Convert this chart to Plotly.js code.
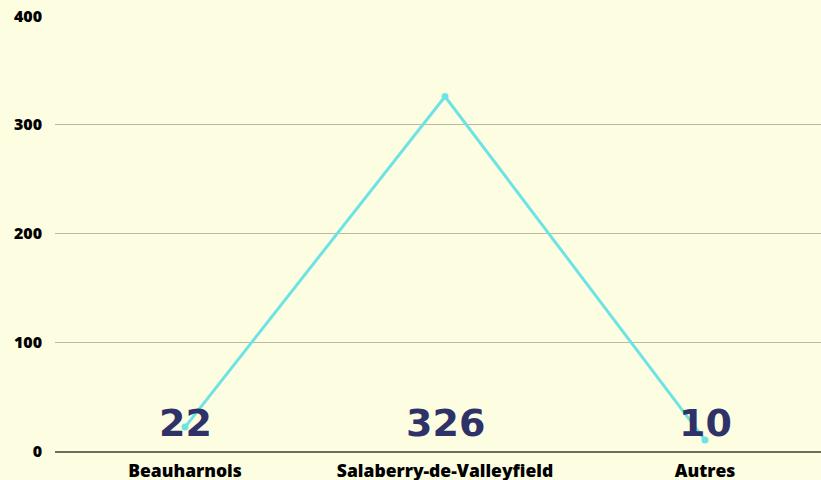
<!DOCTYPE html>
<html><head><meta charset="utf-8">
<script src="https://cdn.plot.ly/plotly-3.0.1.min.js"></script>
<style>body{margin:0;background:#fdfde2}</style>
</head><body>
<div id="chart" style="width:821px;height:480px"></div>
<script>
const categories = ["Beauharnois", "Salaberry-de-Valleyfield", "Autres"];
const values = [22, 326, 10];
const yTicks = [0, 100, 200, 300, 400];

const trace = {
  x: categories, y: values, type: 'scatter', mode: 'lines+markers',
  line: {color: '#6ee3e3', width: 3},
  marker: {color: '#6ee3e3', size: 7},
  hoverinfo: 'none'
};
const annotations = categories.map((c, i) => ({
  x: c, y: 26, xref: 'x', yref: 'y', text: String(values[i]), showarrow: false,
  font: {family: 'DejaVu Sans', size: 38, color: '#2e3268', weight: 900}
}));
const layout = {
  width: 821, height: 480,
  margin: {l: 55, r: 0, t: 16, b: 29},
  paper_bgcolor: '#fdfde2', plot_bgcolor: '#fdfde2',
  showlegend: false,
  xaxis: {
    type: 'category', range: [-0.5, 2.446], showgrid: false,
    showline: true, linecolor: '#6e6e5c', linewidth: 2, zeroline: false,
    ticks: '', ticklabelstandoff: 3,
    tickfont: {family: 'Open Sans', size: 17.5, color: '#000', weight: 800}
  },
  yaxis: {
    range: [0, 400], tickvals: yTicks, ticktext: yTicks.map(String),
    showgrid: true, gridcolor: '#b9b9a4', gridwidth: 1, zeroline: false,
    showline: false, ticks: '', ticklabelstandoff: 12,
    tickfont: {family: 'Open Sans', size: 16, color: '#000', weight: 800}
  },
  annotations: annotations
};
Plotly.newPlot('chart', [trace], layout, {displayModeBar: false, staticPlot: true});
</script>
</body></html>
